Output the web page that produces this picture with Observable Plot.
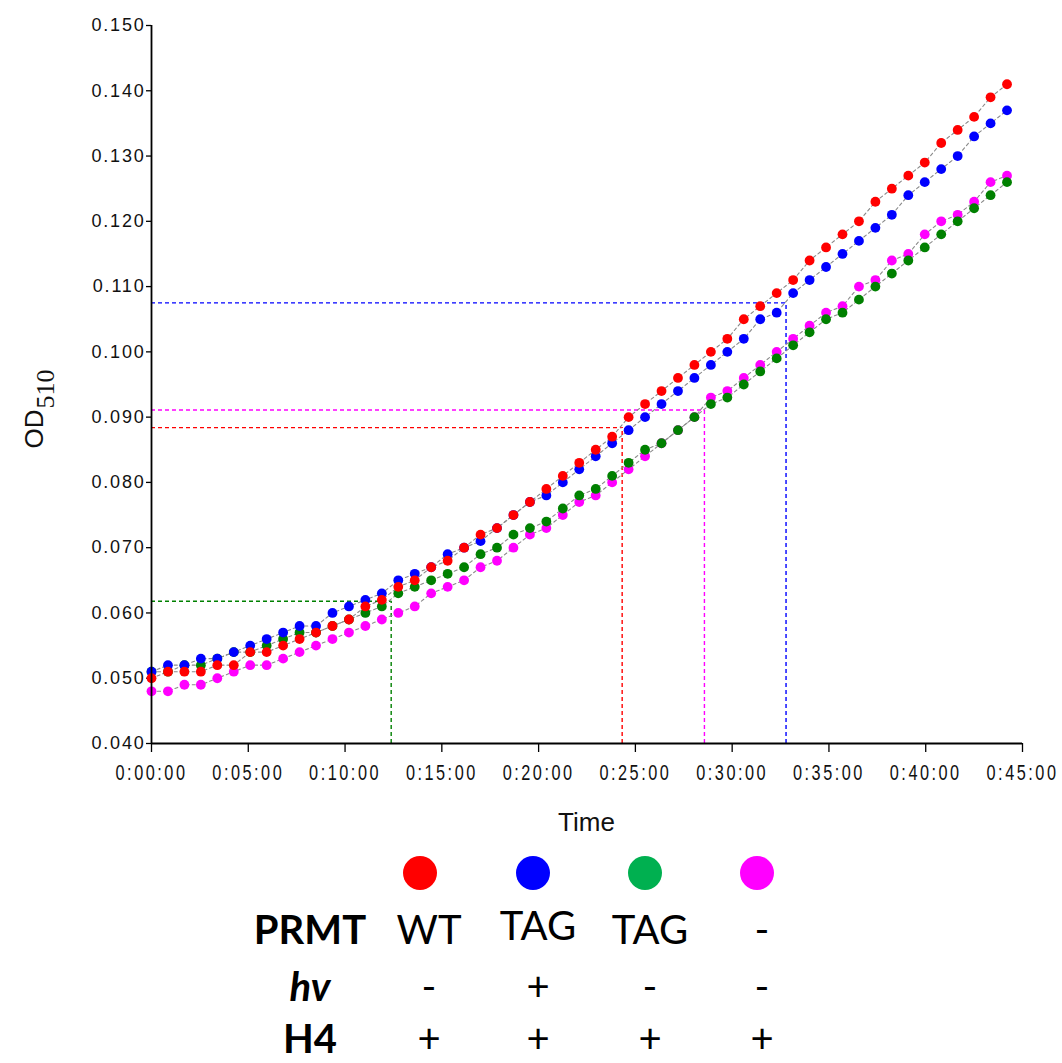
<!DOCTYPE html>
<html>
<head>
<meta charset="utf-8">
<script src="https://cdn.jsdelivr.net/npm/d3@7"></script>
<script src="https://cdn.jsdelivr.net/npm/@observablehq/plot@0.6"></script>
<style>
  html, body { margin: 0; padding: 0; background: #fff; }
  #wrap { position: relative; width: 1062px; height: 1063px; overflow: hidden; }
  #chart { position: absolute; left: 0; top: 0; }
  .key-dot { position: absolute; width: 34px; height: 34px; border-radius: 50%; }
  .key-txt { position: absolute; font-family: Lato, "Open Sans", "Liberation Sans", sans-serif; font-size: 40px; color: #000; line-height: 48px; height: 48px; transform: translate(-50%, 0); white-space: nowrap; }
  .key-head { font-weight: 700; }
</style>
</head>
<body>
<div id="wrap"><div id="chart"></div></div>
<script>
// Sampling times (seconds from start)
const timeSec = [0, 51, 102, 153, 204, 255, 306, 357, 408, 459, 510, 561, 612, 663, 714, 765, 816, 867,
  918, 969, 1020, 1071, 1122, 1173, 1224, 1275, 1326, 1377, 1428, 1479, 1530, 1581, 1632, 1683, 1734,
  1785, 1836, 1887, 1938, 1989, 2040, 2091, 2142, 2193, 2244, 2295, 2346, 2397, 2448, 2499, 2550, 2601, 2652];

// OD510 readings per condition
const odWT = [0.050, 0.051, 0.051, 0.051, 0.052, 0.052, 0.054, 0.054, 0.055, 0.056, 0.057, 0.058, 0.059,
  0.061, 0.062, 0.064, 0.065, 0.067, 0.068, 0.070, 0.072, 0.073, 0.075, 0.077, 0.079,
  0.081, 0.083, 0.085, 0.087, 0.090, 0.092, 0.094, 0.096, 0.098, 0.100, 0.102, 0.105,
  0.107, 0.109, 0.111, 0.114, 0.116, 0.118, 0.120, 0.123, 0.125, 0.127, 0.129, 0.132, 0.134, 0.136, 0.139, 0.141];
const odTagLight = [0.051, 0.052, 0.052, 0.053, 0.053, 0.054, 0.055, 0.056, 0.057, 0.058, 0.058, 0.060, 0.061,
  0.062, 0.063, 0.065, 0.066, 0.067, 0.069, 0.070, 0.071, 0.073, 0.075, 0.077, 0.078,
  0.080, 0.082, 0.084, 0.086, 0.088, 0.090, 0.092, 0.094, 0.096, 0.098, 0.100, 0.102,
  0.105, 0.106, 0.109, 0.111, 0.113, 0.115, 0.117, 0.119, 0.121, 0.124, 0.126, 0.128, 0.130, 0.133, 0.135, 0.137];
const odTagDark = [0.051, 0.051, 0.052, 0.052, 0.053, 0.054, 0.054, 0.055, 0.056, 0.057, 0.057, 0.058, 0.059,
  0.060, 0.061, 0.063, 0.064, 0.065, 0.066, 0.067, 0.069, 0.070, 0.072, 0.073, 0.074,
  0.076, 0.078, 0.079, 0.081, 0.083, 0.085, 0.086, 0.088, 0.090, 0.092, 0.093, 0.095,
  0.097, 0.099, 0.101, 0.103, 0.105, 0.106, 0.108, 0.110, 0.112, 0.114, 0.116, 0.118, 0.120, 0.122, 0.124, 0.126];
const odNoPRMT = [0.048, 0.048, 0.049, 0.049, 0.050, 0.051, 0.052, 0.052, 0.053, 0.054, 0.055, 0.056, 0.057,
  0.058, 0.059, 0.060, 0.061, 0.063, 0.064, 0.065, 0.067, 0.068, 0.070, 0.072, 0.073,
  0.075, 0.077, 0.078, 0.080, 0.082, 0.084, 0.086, 0.088, 0.090, 0.093, 0.094, 0.096,
  0.098, 0.100, 0.102, 0.104, 0.106, 0.107, 0.110, 0.111, 0.114, 0.115, 0.118, 0.120, 0.121, 0.123, 0.126, 0.127];

// Series, in drawing order (last drawn on top)
const seriesNames = ["noPRMT", "tagDark", "tagLight", "wt"];
const seriesValues = [odNoPRMT, odTagDark, odTagLight, odWT];
const seriesColors = ["#ff00ff", "#008000", "#0000ff", "#ff0000"];

// Threshold crossings (time in s, OD) for each series
const crossSeries = ["tagDark", "wt", "noPRMT", "tagLight"];
const crossTime = [743, 1459, 1714, 1967];
const crossOD = [0.0618, 0.0884, 0.0911, 0.1075];

// Axis ticks
const timeTicks = [0, 300, 600, 900, 1200, 1500, 1800, 2100, 2400, 2700];
const odTicks = [0.040, 0.050, 0.060, 0.070, 0.080, 0.090, 0.100, 0.110, 0.120, 0.130, 0.140, 0.150];

// Key below the chart
const keyColors = ["#ff0000", "#0000ff", "#00b050", "#ff00ff"];
const keyRowLabels = ["PRMT", "hv", "H4"];
const keyPRMT = ["WT", "TAG", "TAG", "-"];
const keyHv = ["-", "+", "-", "-"];
const keyH4 = ["+", "+", "+", "+"];

const rows = [];
seriesNames.forEach((name, k) => {
  seriesValues[k].forEach((v, i) => rows.push({series: name, t: timeSec[i], od: v}));
});
const crossings = crossSeries.map((s, i) => ({series: s, t: crossTime[i], od: crossOD[i]}));

const hms = s => `${Math.floor(s / 3600)}:${String(Math.floor((s % 3600) / 60)).padStart(2, "0")}:${String(s % 60).padStart(2, "0")}`;

const chart = Plot.plot({
  width: 1062,
  height: 850,
  marginLeft: 151,
  marginRight: 40,
  marginTop: 25,
  marginBottom: 107,
  style: {fontFamily: "'Liberation Sans', Arial, sans-serif", background: "#fff", color: "#111"},
  x: {domain: [timeTicks[0], timeTicks[timeTicks.length - 1]], ticks: timeTicks, tickFormat: hms,
      tickSize: 9, tickPadding: 12, label: null},
  y: {domain: [odTicks[0], odTicks[odTicks.length - 1]], ticks: odTicks, tickFormat: d3.format(".3f"),
      tickSize: 5, tickPadding: 1, label: null},
  color: {domain: seriesNames, range: seriesColors},
  marks: [
    // dashed guides to each threshold crossing
    Plot.ruleY(crossings, {y: "od", x1: () => timeTicks[0], x2: "t", stroke: "series",
      strokeWidth: 1.4, strokeDasharray: "4,3"}),
    Plot.ruleX(crossings, {x: "t", y1: () => odTicks[0], y2: "od", stroke: "series",
      strokeWidth: 1.4, strokeDasharray: "4,3"}),
    // thin grey connector through each series
    Plot.line(rows, {x: "t", y: "od", z: "series", stroke: "#8a8a8a", strokeWidth: 1.1,
      strokeDasharray: "3,3"}),
    // readings
    Plot.dot(rows, {x: "t", y: "od", fill: "series", r: 4.9, stroke: "none"}),
    // axis lines
    Plot.ruleX([timeTicks[0]], {stroke: "#000", strokeWidth: 1.8}),
    Plot.ruleY([odTicks[0]], {stroke: "#000", strokeWidth: 1.8})
  ]
});

document.getElementById("chart").appendChild(chart);

const svg = d3.select(chart);
// x tick labels: tall, narrow figures
svg.selectAll('[aria-label="x-axis tick label"], g[aria-label="x-axis"]')
  .attr("font-size", 22).attr("letter-spacing", 3.4);
svg.selectAll('[aria-label="x-axis tick label"] text, g[aria-label="x-axis"] .tick text').each(function () {
  const t = this.getAttribute("transform") || "";
  this.setAttribute("transform", t + " scale(0.74,1)");
});
// y tick labels
svg.selectAll('[aria-label="y-axis tick label"], g[aria-label="y-axis"]')
  .attr("font-size", 18).attr("letter-spacing", 1.8);
svg.selectAll('[aria-label="x-axis tick"], [aria-label="y-axis tick"]').attr("stroke", "#000").attr("stroke-width", 1.3);

// axis titles
const xMid = (151 + 1022) / 2;
svg.append("text")
  .attr("x", xMid).attr("y", 831)
  .attr("text-anchor", "middle")
  .attr("font-family", "'Liberation Sans', Arial, sans-serif")
  .attr("font-size", 26)
  .attr("fill", "#111")
  .text("Time");

const yTitle = svg.append("text")
  .attr("transform", "translate(43,409) rotate(-90)")
  .attr("fill", "#111");
yTitle.append("tspan")
  .attr("font-family", "'Liberation Sans', Arial, sans-serif")
  .attr("font-size", 26)
  .text("OD");
yTitle.append("tspan")
  .attr("font-family", "'Liberation Serif', 'Times New Roman', serif")
  .attr("font-size", 26)
  .attr("dx", 1)
  .attr("dy", 11)
  .text("510");

// key
const wrap = document.getElementById("wrap");
const dotX = [420, 533, 645, 757];
const txtX = [429, 538, 650, 762];
keyColors.forEach((c, i) => {
  const d = document.createElement("div");
  d.className = "key-dot";
  d.style.left = (dotX[i] - 17) + "px";
  d.style.top = (873 - 17) + "px";
  d.style.background = c;
  wrap.appendChild(d);
});
const rowTop = [905, 962, 1014];
const rowVals = [keyPRMT, keyHv, keyH4];
keyRowLabels.forEach((lab, r) => {
  const h = document.createElement("div");
  h.className = "key-txt key-head";
  h.style.left = "310px";
  h.style.top = rowTop[r] + "px";
  if (lab === "hv") h.style.fontStyle = "italic";
  h.textContent = lab;
  wrap.appendChild(h);
  rowVals[r].forEach((v, i) => {
    const t = document.createElement("div");
    t.className = "key-txt";
    t.style.left = txtX[i] + "px";
    t.style.top = (rowTop[r] + (r === 0 && i === 1 ? -4 : 0)) + "px";
    t.textContent = v;
    wrap.appendChild(t);
  });
});
</script>
</body>
</html>
